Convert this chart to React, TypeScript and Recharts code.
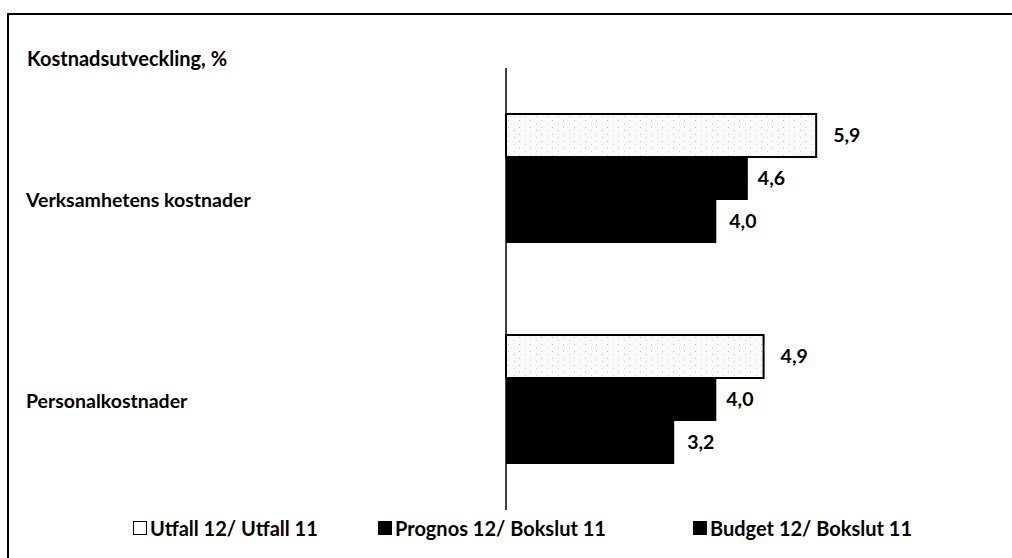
import React from "react";
import { BarChart, Bar, XAxis, YAxis, LabelList, Legend } from "recharts";

const categories = ["Verksamhetens kostnader", "Personalkostnader"];
const utfall = [5.9, 4.9];
const prognos = [4.6, 4.0];
const budget = [4.0, 3.2];
const seriesKeys = ["utfall", "prognos", "budget"];
const seriesNames = ["Utfall 12/ Utfall 11", "Prognos 12/ Bokslut 11", "Budget 12/ Bokslut 11"];

const data = categories.map((name, i) => ({
  name,
  utfall: utfall[i],
  prognos: prognos[i],
  budget: budget[i],
}));

const FONT = "Lato, 'Open Sans', sans-serif";

const fmt = (v: any) => String(Number(v).toFixed(1)).replace(".", ",");

const CategoryTick = (props: any) => {
  const { y, payload, index } = props;
  const dy = index === 0 ? 21 : 1;
  return (
    <text
      x={26}
      y={y + dy}
      dy={7}
      textAnchor="start"
      fontFamily={FONT}
      fontWeight={700}
      fontSize={19.5}
      fill="#000"
    >
      {payload.value}
    </text>
  );
};

const legendLeft = [133, 378, 693];

const LegendContent = (props: any) => {
  const payload = [...(props.payload || [])].sort(
    (a: any, b: any) => seriesKeys.indexOf(a.dataKey) - seriesKeys.indexOf(b.dataKey)
  );
  return (
    <div style={{ position: "relative", height: 24, fontFamily: FONT, fontWeight: 700, fontSize: 20 }}>
      {payload.map((entry: any, i: number) => (
        <div
          key={i}
          style={{ position: "absolute", left: legendLeft[i], top: 0, display: "flex", alignItems: "center" }}
        >
          <span
            style={{
              display: "inline-block",
              width: 12,
              height: 12,
              marginRight: 3,
              background: i === 0 ? "#fff" : "#000",
              border: "1.5px solid #000",
            }}
          />
          <span style={{ color: "#000" }}>{entry.value}</span>
        </div>
      ))}
    </div>
  );
};

export default function App() {
  return (
    <div style={{ position: "absolute", left: 0, top: 0, width: 1012, height: 558, background: "#fff" }}>
      <div
        style={{
          position: "absolute",
          left: 7,
          top: 13,
          width: 1005,
          height: 545,
          borderTop: "2px solid #000",
          borderLeft: "2px solid #000",
          boxSizing: "border-box",
        }}
      />
      <div
        style={{
          position: "absolute",
          left: 27,
          top: 46,
          fontFamily: FONT,
          fontWeight: 700,
          fontSize: 20,
          color: "#000",
        }}
      >
        Kostnadsutveckling, %
      </div>
      <div style={{ position: "absolute", left: 0, top: 0 }}>
        <BarChart
          width={1012}
          height={558}
          data={data}
          layout="vertical"
          margin={{ top: 68, right: 138, bottom: 24, left: 0 }}
          barCategoryGap={46}
          barGap={0}
        >
          <defs>
            <pattern id="stipple" width="11" height="7" patternUnits="userSpaceOnUse">
              <rect width="11" height="7" fill="#fafafa" />
              <rect x="2" y="1" width="1" height="1" fill="#c4c4c4" />
              <rect x="8" y="4" width="1" height="1" fill="#d6d6d6" />
            </pattern>
          </defs>
          <XAxis type="number" domain={[0, 7]} hide />
          <YAxis
            type="category"
            dataKey="name"
            width={506}
            axisLine={{ stroke: "#000", strokeWidth: 1.5 }}
            tickLine={false}
            tick={<CategoryTick />}
          />
          <Bar
            dataKey="utfall"
            name={seriesNames[0]}
            fill="url(#stipple)"
            stroke="#000"
            strokeWidth={2}
            isAnimationActive={false}
          >
            <LabelList
              dataKey="utfall"
              position="right"
              offset={17}
              formatter={fmt}
              fill="#000"
              fontFamily={FONT}
              fontWeight={700}
              fontSize={19.5}
            />
          </Bar>
          <Bar dataKey="prognos" name={seriesNames[1]} fill="#000" isAnimationActive={false}>
            <LabelList
              dataKey="prognos"
              position="right"
              offset={10}
              formatter={fmt}
              fill="#000"
              fontFamily={FONT}
              fontWeight={700}
              fontSize={19.5}
            />
          </Bar>
          <Bar dataKey="budget" name={seriesNames[2]} fill="#000" isAnimationActive={false}>
            <LabelList
              dataKey="budget"
              position="right"
              offset={13}
              formatter={fmt}
              fill="#000"
              fontFamily={FONT}
              fontWeight={700}
              fontSize={19.5}
            />
          </Bar>
          <Legend
            content={<LegendContent />}
            wrapperStyle={{ position: "absolute", top: 516, left: 0, width: 1012 }}
          />
        </BarChart>
      </div>
    </div>
  );
}
